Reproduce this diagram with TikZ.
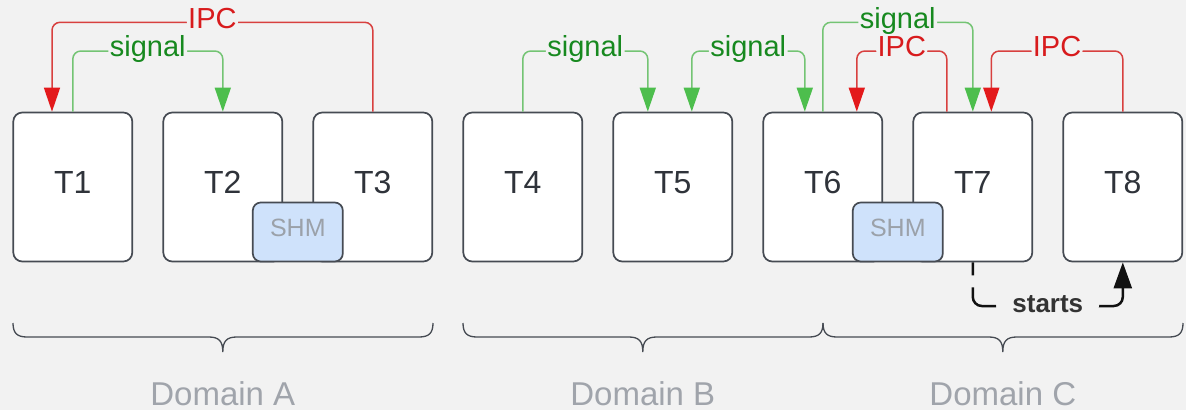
\documentclass[tikz,border=0pt]{standalone}
\usepackage{fontspec}
\setmainfont{Liberation Sans}
\usetikzlibrary{arrows.meta,calc}

\definecolor{bg}{HTML}{F2F2F2}
\definecolor{boxline}{HTML}{464B53}
\definecolor{boxtext}{HTML}{2F333A}
\definecolor{shmfill}{HTML}{CFE2FB}
\definecolor{shmtext}{HTML}{9BA1A9}
\definecolor{ipcline}{HTML}{D8403F}
\definecolor{ipchead}{HTML}{E3191B}
\definecolor{ipctext}{HTML}{D81B1D}
\definecolor{sigline}{HTML}{74C474}
\definecolor{sighead}{HTML}{4DBE4D}
\definecolor{sigtext}{HTML}{17891F}
\definecolor{domtext}{HTML}{A0A4AB}
\definecolor{startcol}{HTML}{111111}
\definecolor{starttext}{HTML}{333333}

\tikzset{
  sigtip/.tip={Triangle[length=24pt,width=16pt,color=sighead]},
  ipctip/.tip={Triangle[length=24pt,width=16pt,color=ipchead]},
  starttip/.tip={Triangle[length=26pt,width=18pt,color=startcol]},
}

\begin{document}
\begin{tikzpicture}[x=1pt,y=-1pt,
  task/.style={draw=boxline, fill=white, line width=1.7pt, rounded corners=9pt,
    minimum width=119pt, minimum height=149pt, inner sep=0pt,
    text=boxtext, font=\fontsize{32}{38}\selectfont, text depth=10pt},
  shm/.style={draw=boxline, fill=shmfill, line width=1.7pt, rounded corners=8pt,
    minimum width=90pt, minimum height=59pt, inner sep=0pt,
    text=shmtext, font=\fontsize{25}{30}\selectfont, text depth=8pt},
  ipc/.style={draw=ipcline, line width=1.5pt, rounded corners=8pt, -ipctip},
  sig/.style={draw=sigline, line width=1.5pt, rounded corners=8pt, -sigtip},
  lbl/.style={fill=bg, inner xsep=1.5pt, inner ysep=1pt, anchor=base, yshift=-5.8pt,
    font=\fontsize{29}{34}\selectfont},
  startsline/.style={draw=startcol, line width=2.5pt, rounded corners=9pt,
    dash pattern=on 13pt off 12pt on 38pt off 100pt on 60pt off 10pt, -starttip},
  startlbl/.style={fill=bg, inner xsep=16pt, inner ysep=1pt, anchor=base, yshift=-6.5pt,
    text=starttext, font=\fontsize{26}{30}\selectfont\bfseries},
  bracepath/.style={draw=boxline, line width=1.3pt},
  domlabel/.style={text=domtext, font=\fontsize{33}{38}\selectfont, inner sep=0pt},
]
\path[use as bounding box, fill=bg] (0,0) rectangle (1186,410);

% tasks
\foreach \i in {1,...,8}
  \node[task] (T\i) at ({72.8+150*(\i-1)},187) {T\i};

% shared memory blocks
\node[shm, anchor=south] (shmA) at ($(T2.south east)!0.5!(T3.south west)$) {SHM};
\node[shm, anchor=south] (shmC) at ($(T6.south east)!0.5!(T7.south west)$) {SHM};

% connector levels
\coordinate (hi) at (0,22.3);
\coordinate (lo) at (0,51);
\coordinate (startlvl) at (0,306);

% attachment points on the task tops
\coordinate (t1ipc) at ($(T1.north)+(-20.8,0)$);
\coordinate (t5a) at ($(T5.north)+(-25,0)$);
\coordinate (t5b) at ($(T5.north)+(19,0)$);
\coordinate (t6a) at ($(T6.north)+(-18,0)$);
\coordinate (t6ipc) at ($(T6.north)+(34,0)$);
\coordinate (t7ipc) at ($(T7.north)+(-26,0)$);
\coordinate (t7in) at ($(T7.north)+(18.5,0)$);

% Domain A
\draw[ipc] (T3.north) -- (T3.north |- hi) -- node[lbl, text=ipctext]{IPC} (t1ipc |- hi) -- (t1ipc);
\draw[sig] (T1.north) -- (T1.north |- lo) -- node[lbl, text=sigtext]{signal} (T2.north |- lo) -- (T2.north);

% Domain B
\draw[sig] (T4.north) -- (T4.north |- lo) -- node[lbl, text=sigtext]{signal} (t5a |- lo) -- (t5a);
\draw[sig, sigtip-sigtip] (t5b) -- (t5b |- lo) -- node[lbl, text=sigtext]{signal} (t6a |- lo) -- (t6a);

% Domain C
\draw[sig] (T6.north) -- (T6.north |- hi) -- node[lbl, text=sigtext]{signal} (T7.north |- hi) -- (T7.north);
\draw[ipc] (t7ipc) -- (t7ipc |- lo) -- node[lbl, text=ipctext]{IPC} (t6ipc |- lo) -- (t6ipc);
\draw[ipc] (T8.north) -- (T8.north |- lo) -- node[lbl, text=ipctext]{IPC} (t7in |- lo) -- (t7in);

% T7 starts T8
\draw[startsline] (T7.south) -- (T7.south |- startlvl) -- node[startlbl]{starts} (T8.south |- startlvl) -- (T8.south);

% domain braces
\foreach \l/\m/\r in {13/222.8/433, 463/642.8/823, 823/1002.8/1183}
  \draw[bracepath] (\l,323) .. controls (\l,333) and (\l+4,337) .. (\l+14,337)
    -- (\m-14,337) .. controls (\m-4,337) and (\m,341) .. (\m,352)
    .. controls (\m,341) and (\m+4,337) .. (\m+14,337)
    -- (\r-14,337) .. controls (\r-4,337) and (\r,333) .. (\r,323);

\node[domlabel] (domA) at (222.8,393.5) {Domain A};
\node[domlabel] (domB) at (642.8,393.5) {Domain B};
\node[domlabel] (domC) at (1002.8,393.5) {Domain C};
\end{tikzpicture}
\end{document}
